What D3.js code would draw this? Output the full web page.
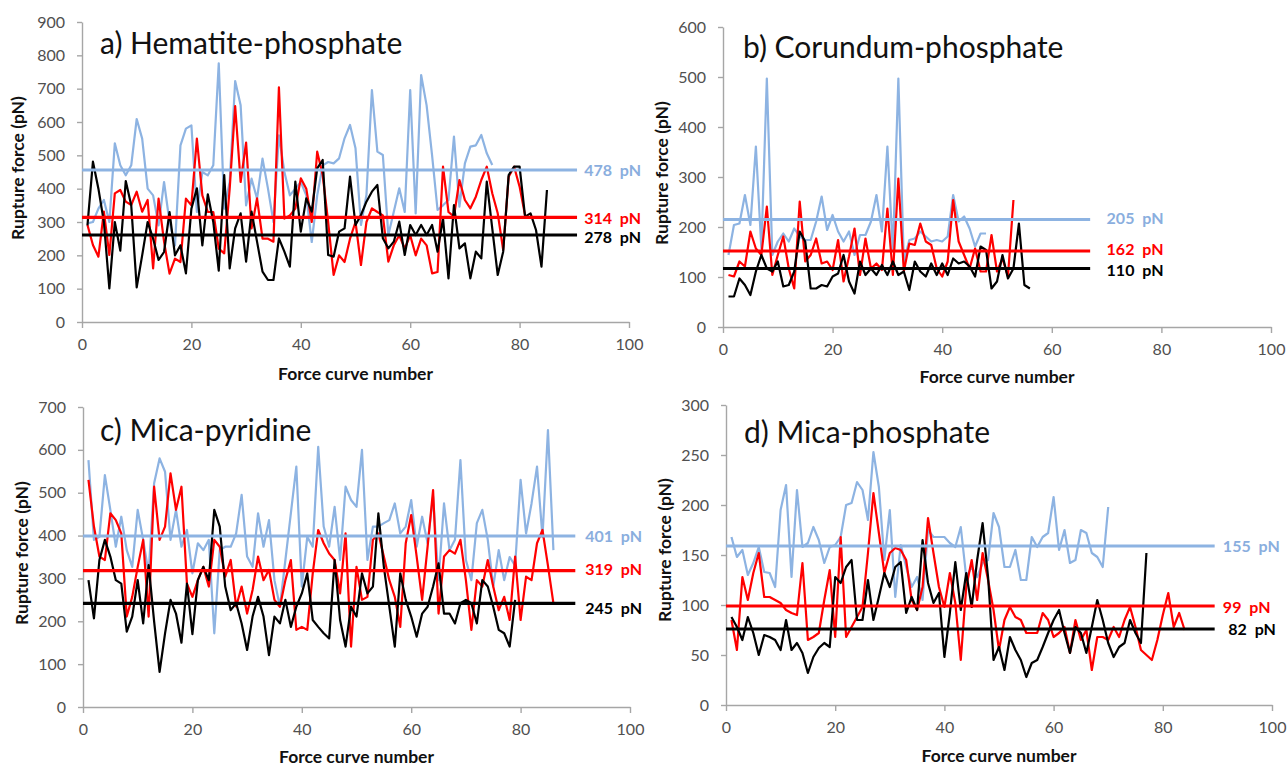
<!DOCTYPE html>
<html>
<head>
<meta charset="utf-8">
<script src="https://cdn.jsdelivr.net/npm/d3@7"></script>
<style>
  body { margin: 0; background: #fff; }
  svg text { font-family: Lato, "Open Sans", sans-serif; }
</style>
</head>
<body>
<div id="chart"></div>
<script>
// ---- data: rupture force (pN) per force curve, curve numbers start at 1 ----
const aBlue = [296,300,340,366,300,536,470,440,470,609, 550,400,380,290,420,300,230,530,580,590,
  330,450,440,470,776,340,420,723,650,350, 430,370,490,400,300,560,450,380,400,420,
  380,240,380,470,480,476,491,551,591,521, 291,381,696,511,501,261,331,401,330,696,
  326,741,650,500,336,350,366,556,346,476, 526,530,561,506,471];
const aRed = [291,231,196,331,201,386,396,361,351,391, 331,366,161,370,241,145,190,180,370,350,
  550,380,330,330,220,206,400,648,420,538, 281,371,250,250,241,704,310,320,340,431,
  400,300,511,441,300,141,200,180,250,300, 171,300,341,330,320,181,230,260,220,260,
  200,250,230,146,150,466,330,316,426,366, 341,376,426,466,386,326,216,436,466,406,320];
const aBlack = [290,481,400,300,101,300,214,423,350,104, 200,300,250,186,210,330,200,230,146,340,
  401,230,383,300,154,441,161,281,326,181, 331,241,151,126,126,251,211,166,421,271,
  371,331,461,486,201,196,271,281,436,291, 321,361,391,411,251,221,241,301,201,291,
  261,291,261,291,211,311,131,351,221,236, 131,211,191,421,281,141,211,441,466,466,
  316,326,276,166,396];

const bBlue = [144,204,207,264,204,361,157,497,144,171, 187,171,197,181,174,174,211,261,194,224,
  191,171,191,144,184,184,211,264,191,361, 151,497,131,174,177,191,181,171,174,171,
  181,264,211,221,197,161,187,187];
const bRed = [104,101,131,121,191,157,144,241,104,144, 181,117,77,251,131,144,177,127,131,114,
  174,91,141,197,104,177,117,127,114,237, 104,297,111,167,164,207,171,164,117,101,
  131,254,171,144,117,157,111,111,184,111, 137,101,254];
const bBlack = [61,61,97,84,64,111,144,117,111,131, 81,84,111,191,171,77,77,84,81,101,
  107,144,91,67,131,104,117,104,124,104, 131,104,111,74,131,111,101,127,104,127,
  104,137,127,131,121,101,161,154,77,91, 144,97,117,207,84,77];

const cBlue = [576,390,397,541,460,374,444,366,327,460, 390,312,522,580,549,390,460,374,413,312,
  382,366,390,172,366,374,374,405,495,351, 327,452,374,436,296,234,343,452,561,281,
  397,374,607,421,374,467,343,514,483,467, 600,343,421,421,429,436,475,405,421,483,
  374,444,382,491,296,475,366,390,576,343, 296,429,460,390,281,366,296,350,330,530,
  405,475,561,397,646,366];
const cRed = [530,421,351,343,452,436,405,211,257,327, 390,211,514,390,421,545,460,514,288,257,
  296,327,281,390,374,304,343,234,281,218, 273,351,296,320,250,234,296,343,180,187,
  180,312,413,382,358,343,265,405,141,327, 250,257,390,405,351,296,257,187,382,448,
  351,250,374,506,218,351,366,358,390,296, 180,296,281,343,281,226,257,203,351,203,
  304,296,382,413,330,242];
const cBlack = [296,207,343,390,351,296,288,176,211,296, 195,331,200,82,172,250,218,150,288,170,
  296,327,296,460,421,281,226,242,195,133, 211,257,211,121,211,195,250,187,234,265,
  312,203,187,172,160,343,203,141,234,211, 312,265,281,452,327,234,141,312,250,211,
  164,218,234,281,335,218,218,195,242,250, 242,195,296,281,234,180,172,141,250];

const dBlue = [168,148,155,130,142,158,133,132,118,195, 220,128,215,158,162,178,165,142,158,160,
  168,200,202,223,215,185,253,218,145,195, 108,160,138,118,128,105,175,168,168,168,
  162,158,178,128,138,128,142,145,192,178, 138,138,155,125,125,168,158,168,172,208,
  155,175,142,145,175,172,152,148,138,198];
const dRed = [85,55,128,105,132,152,108,108,105,102, 95,92,90,142,65,68,72,105,135,68,
  168,68,78,88,98,152,212,172,132,152, 157,155,145,105,95,118,187,152,118,98,
  132,102,45,118,145,105,152,125,95,55, 85,98,88,85,72,72,72,92,85,68,
  72,78,52,85,65,75,35,68,68,65, 78,68,85,98,78,55,50,45,65,90,
  112,78,92,75];
const dBlack = [88,78,65,88,72,50,70,68,65,55, 85,55,62,52,32,48,57,62,58,128,
  122,138,145,85,85,125,85,108,132,118, 138,143,92,108,95,165,122,102,112,48,
  92,143,95,132,98,145,182,128,45,58, 35,68,55,45,28,42,45,58,72,85,
  95,72,52,78,72,52,78,105,85,62, 48,58,62,85,72,62,152];

// mean lines as drawn (blue, red, black) and the values printed beside them
const aMeans = [456, 314, 261];
const aMeanLabels = ["478 pN", "314 pN", "278 pN"];
const bMeans = [215, 152, 117];
const bMeanLabels = ["205 pN", "162 pN", "110 pN"];
const cMeans = [399, 318, 242];
const cMeanLabels = ["401 pN", "319 pN", "245 pN"];
const dMeans = [159, 99, 76];
const dMeanLabels = ["155 pN", "99 pN", "82 pN"];

const titles = ["a) Hematite-phosphate", "b) Corundum-phosphate", "c) Mica-pyridine", "d) Mica-phosphate"];
const yMaxes = [900, 600, 700, 300];
const ySteps = [100, 100, 100, 50];
const xTicks = [0, 20, 40, 60, 80, 100];

const colors = ["#8db3e2", "#ff0000", "#000000"];
const labelColors = ["#8aaede", "#ff0000", "#000000"];

// layout of each panel on the page
const panels = [
  {title: titles[0], yMax: yMaxes[0], yStep: ySteps[0], series: [aBlue, aRed, aBlack], means: aMeans, meanLabels: aMeanLabels,
   left: 82, right: 629, bottom: 322, top: 22, meanEnd: 90.5, labelX: [91.8, 91.8, 91.8], labelDy: [0, 1, 2],
   titleX: 100, titleY: 54, yLabX: 18, yLabY: 168, xLabY: 380},
  {title: titles[1], yMax: yMaxes[1], yStep: ySteps[1], series: [bBlue, bRed, bBlack], means: bMeans, meanLabels: bMeanLabels,
   left: 723, right: 1271, bottom: 327, top: 27, meanEnd: 67, labelX: [70, 70, 70], labelDy: [-1, -2, 2],
   titleX: 743, titleY: 58, yLabX: 662, yLabY: 173, xLabY: 383},
  {title: titles[2], yMax: yMaxes[2], yStep: ySteps[2], series: [cBlue, cRed, cBlack], means: cMeans, meanLabels: cMeanLabels,
   left: 83, right: 630, bottom: 707, top: 407, meanEnd: 90, labelX: [91.8, 91.8, 91.8], labelDy: [0, -1, 5],
   titleX: 100, titleY: 441, yLabX: 22, yLabY: 553, xLabY: 763},
  {title: titles[3], yMax: yMaxes[3], yStep: ySteps[3], series: [dBlue, dRed, dBlack], means: dMeans, meanLabels: dMeanLabels,
   left: 726, right: 1272, bottom: 705, top: 405, meanEnd: 89.5, labelX: [91, 91, 92], labelDy: [0, 1, 0],
   titleX: 744, titleY: 443, yLabX: 665, yLabY: 550, xLabY: 762}
];

const svg = d3.select("#chart").append("svg")
  .attr("width", 1287)
  .attr("height", 767);

panels.forEach(drawPanel);

function drawPanel(p) {
  const x = d3.scaleLinear().domain([0, 100]).range([p.left, p.right]);
  const y = d3.scaleLinear().domain([0, p.yMax]).range([p.bottom, p.top]);
  const g = svg.append("g");

  // axes
  const yAxis = g.append("g")
    .attr("transform", `translate(${p.left},0)`)
    .call(d3.axisLeft(y).tickValues(d3.range(0, p.yMax + 1, p.yStep)).tickSize(5).tickSizeOuter(0).tickPadding(12));
  const xAxis = g.append("g")
    .attr("transform", `translate(0,${p.bottom})`)
    .call(d3.axisBottom(x).tickValues(xTicks).tickSize(6).tickSizeOuter(0).tickPadding(11));

  [yAxis, xAxis].forEach(ax => {
    ax.select(".domain").attr("stroke", "#a6a6a6").attr("stroke-width", 1.4);
    ax.selectAll(".tick line").attr("stroke", "#a6a6a6").attr("stroke-width", 1.4);
    ax.selectAll(".tick text")
      .attr("fill", "#505050")
      .style("font-size", "16px");
  });

  // data series
  const line = d3.line()
    .x((d, i) => x(i + 1))
    .y(d => y(d));

  p.series.forEach((s, k) => {
    g.append("path")
      .datum(s)
      .attr("fill", "none")
      .attr("stroke", colors[k])
      .attr("stroke-width", 2.2)
      .attr("stroke-linejoin", "round")
      .attr("d", line);
  });

  // mean lines + labels
  p.means.forEach((m, k) => {
    g.append("line")
      .attr("x1", x(0)).attr("x2", x(p.meanEnd))
      .attr("y1", y(m)).attr("y2", y(m))
      .attr("stroke", colors[k])
      .attr("stroke-width", 3.2);
    g.append("text")
      .attr("x", x(p.labelX[k]))
      .attr("y", y(m) + p.labelDy[k])
      .attr("dy", "0.35em")
      .attr("fill", labelColors[k])
      .style("font-size", "16px")
      .style("font-weight", "bold")
      .style("word-spacing", "4px")
      .text(p.meanLabels[k]);
  });

  // titles and axis labels
  g.append("text")
    .attr("x", p.titleX)
    .attr("y", p.titleY)
    .attr("fill", "#111")
    .style("font-size", "30px")
    .text(p.title);

  g.append("text")
    .attr("transform", `translate(${p.yLabX},${p.yLabY}) rotate(-90)`)
    .attr("text-anchor", "middle")
    .attr("dy", "0.35em")
    .attr("fill", "#111")
    .style("font-size", "17.5px")
    .style("font-weight", "bold")
    .text("Rupture force (pN)");

  g.append("text")
    .attr("x", (p.left + p.right) / 2)
    .attr("y", p.xLabY)
    .attr("text-anchor", "middle")
    .attr("fill", "#111")
    .style("font-size", "17.5px")
    .style("font-weight", "bold")
    .text("Force curve number");
}
</script>
</body>
</html>
